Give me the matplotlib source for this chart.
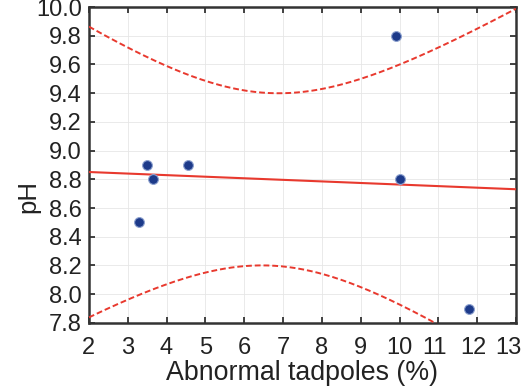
import numpy as np
import matplotlib.pyplot as plt
from matplotlib.transforms import ScaledTranslation

plt.rcParams['font.family'] = ['Liberation Sans', 'DejaVu Sans']

# data
tadpoles = np.array([3.3, 3.5, 3.65, 4.55, 9.9, 10.0, 11.8])
ph = np.array([8.5, 8.9, 8.8, 8.9, 9.8, 8.8, 7.9])
xticks = [2, 3, 4, 5, 6, 7, 8, 9, 10, 11, 12, 13]
yticks = [7.8, 8.0, 8.2, 8.4, 8.6, 8.8, 9.0, 9.2, 9.4, 9.6, 9.8, 10.0]

# linear fit + 95% confidence band for the mean
n = len(tadpoles)
slope, icept = np.polyfit(tadpoles, ph, 1)
resid = ph - (slope * tadpoles + icept)
s = np.sqrt(np.sum(resid**2) / (n - 2))
sxx = np.sum((tadpoles - tadpoles.mean())**2)
t975 = 2.5706  # t(0.975, df=5)
xs = np.linspace(2, 13, 300)
fit = slope * xs + icept
half = t975 * s * np.sqrt(1.0 / n + (xs - tadpoles.mean())**2 / sxx)

fig = plt.figure(figsize=(5.26, 3.9), dpi=100)
ax = fig.add_axes([0.169, 0.172, 0.812, 0.81])

red = '#e8392e'
ax.plot(xs, fit, color=red, lw=1.5, zorder=3)
ax.plot(xs, fit + half, color=red, lw=1.4, ls=(0, (3, 1.5)), zorder=3)
ax.plot(xs, fit - half, color=red, lw=1.4, ls=(0, (3, 1.5)), zorder=3)
ax.scatter(tadpoles, ph, s=50, color='#1d3a8a', edgecolors='#8fa3d0',
           linewidths=0.8, zorder=4)

ax.set_xlim(2, 13)
ax.set_ylim(7.8, 10.0)
ax.set_xticks(xticks)
ax.set_yticks(yticks)
ax.set_yticklabels(['%.1f' % v for v in yticks])
ax.grid(True, color='#e6e6e6', lw=0.6)
ax.set_axisbelow(True)
ax.tick_params(direction='in', top=True, right=True, length=4, width=1.2,
               labelsize=17, colors='#222222', pad=5)
ax.tick_params(axis='x', pad=10)
for sp in ax.spines.values():
    sp.set_linewidth(1.8)
    sp.set_color('#333333')

# last x labels sit a bit to the left in the original
shifts = {'11': -4, '12': -4, '13': -8}
for lab in ax.get_xticklabels():
    dx = shifts.get(lab.get_text(), 0)
    if dx:
        lab.set_transform(lab.get_transform() + ScaledTranslation(dx / 100, 0, fig.dpi_scale_trans))

ax.set_xlabel('Abnormal tadpoles (%)', fontsize=19.3, color='#222222', labelpad=1)
ax.set_ylabel('pH', fontsize=18.5, color='#222222')
ax.yaxis.set_label_coords(-0.113, 0.40)

fig.savefig('out.png', dpi=100)
